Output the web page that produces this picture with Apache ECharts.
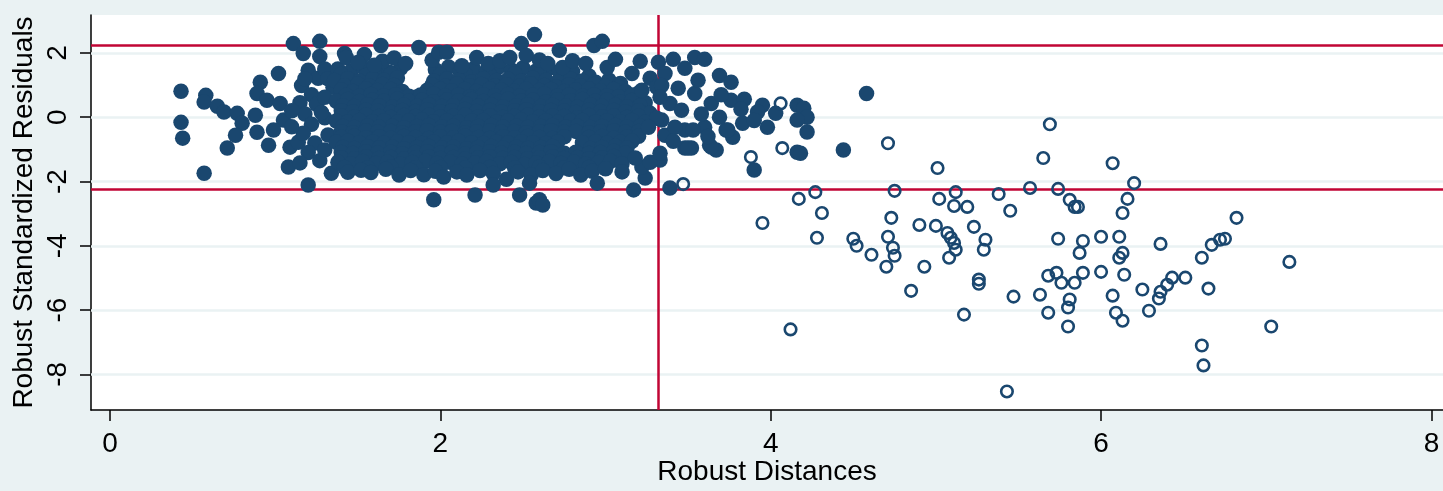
<!DOCTYPE html>
<html>
<head>
<meta charset="utf-8">
<style>
  html, body { margin: 0; padding: 0; background: #EAF2F3; }
  #chart { width: 1443px; height: 491px; }
</style>
<script src="https://cdn.jsdelivr.net/npm/echarts@6/dist/echarts.min.js"></script>
</head>
<body>
<div id="chart"></div>
<script>
// axis ticks
var xTicks = [0, 2, 4, 6, 8];
var yTicks = [-8, -6, -4, -2, 0, 2];
// cut-off lines
var yCut = [2.245, -2.245];
var xCut = [3.32];

// regular points (filled) in groups
var leftPts = [
  [0.43,0.81],[0.43,-0.16],[0.44,-0.65],[0.57,-1.74],[0.58,0.68],[0.57,0.47],[0.65,0.34],[0.69,0.16],
  [0.77,0.12],[0.8,-0.19],[0.76,-0.56],[0.71,-0.96],[0.89,-0.47],[0.88,0.06],[0.91,1.09],[0.89,0.74],
  [0.96,-0.87],[1.02,1.36],[1.08,-1.55],[1.09,-0.93],[1.14,-0.78],[1.11,2.29],[1.17,1.98],[1.27,2.36],
  [1.27,1.89],[1.2,-2.11],[1.2,1.46],[1.26,1.21],[1.16,0.99],[0.95,0.53],[1.03,0.43],[1.05,-0.09],
  [0.99,-0.4],[1.34,-1.74],[1.42,1.98],[1.35,0.93],
  [1.18,1.2],[1.22,0.7],[1.15,0.45],[1.25,0.4],[1.18,0.1],[1.22,-0.22],[1.17,-0.5],[1.24,-0.8],
  [1.2,-1.1],[1.27,-1.35],[1.15,-1.42],[1.1,0.2],[1.1,-0.3],[1.3,1.5],[1.3,0.62],[1.3,-0.02],
  [1.32,-0.55],[1.3,-1.02],[1.32,1.2],[1.28,0.15]
];
var corePts = [
  [1.38,1.5],[1.46,1.44],[1.53,1.56],[1.61,1.47],[1.69,1.4],[1.76,1.52],[1.97,1.48],[2.05,1.56],
  [2.12,1.42],[2.2,1.5],[2.28,1.45],[2.35,1.55],[2.43,1.47],[2.5,1.53],[2.58,1.44],[2.65,1.5],
  [2.72,1.42],[2.8,1.42],
  [1.4,1.33],[1.55,1.3],[1.7,1.35],[2.0,1.32],[2.15,1.34],[2.3,1.31],[2.45,1.35],[2.6,1.32],[2.75,1.3],[2.9,1.28],
  [1.36,1.14],[1.44,1.2],[1.51,1.12],[1.59,1.19],[1.66,1.15],[1.74,1.22],[1.96,1.13],[2.04,1.19],
  [2.11,1.16],[2.19,1.1],[2.26,1.2],[2.34,1.14],[2.41,1.18],[2.49,1.12],[2.56,1.21],[2.64,1.15],
  [2.71,1.1],[2.79,1.18],[2.86,1.13],[2.94,1.09],[3.02,1.16],[3.09,1.05],
  [1.42,0.98],[1.5,1.03],[1.57,0.97],[1.65,1.02],[1.72,0.99],[1.95,1.0],[2.03,0.96],[2.1,1.03],
  [2.18,0.98],[2.25,1.02],[2.33,0.97],[2.4,1.01],[2.48,0.96],[2.55,1.03],[2.63,0.99],[2.7,0.95],
  [2.78,1.01],[2.85,0.97],[2.93,1.02],[3.0,0.96],[3.08,0.93],
  [1.4,0.85],[1.47,0.8],[1.55,0.88],[1.62,0.83],[1.7,0.86],[1.77,0.8],[1.85,0.62],[1.92,0.84],
  [2.0,0.87],[2.07,0.82],[2.15,0.86],[2.22,0.8],[2.3,0.88],[2.37,0.84],[2.45,0.81],[2.52,0.87],
  [2.6,0.83],[2.67,0.86],[2.75,0.8],[2.82,0.85],[2.9,0.88],[2.97,0.82],[3.05,0.86],[3.12,0.8],[3.2,0.75],
  [1.43,0.68],[1.51,0.65],[1.58,0.71],[1.66,0.67],[1.73,0.7],[1.81,0.65],[1.88,0.69],[1.96,0.72],
  [2.03,0.66],[2.11,0.69],[2.18,0.64],[2.26,0.7],[2.33,0.67],[2.41,0.71],[2.48,0.65],[2.56,0.68],
  [2.63,0.72],[2.71,0.66],[2.78,0.69],[2.86,0.65],[2.93,0.7],[3.01,0.67],[3.08,0.64],[3.16,0.69],
  [1.37,0.5],[1.44,0.55],[1.51,0.49],[1.59,0.53],[1.66,0.5],[1.74,0.56],[1.81,0.5],[1.89,0.53],
  [1.96,0.48],[2.04,0.54],[2.11,0.51],[2.19,0.55],[2.26,0.49],[2.34,0.52],[2.41,0.56],[2.49,0.5],
  [2.56,0.53],[2.64,0.48],[2.71,0.54],[2.79,0.51],[2.86,0.55],[2.94,0.5],[3.01,0.53],[3.09,0.47],
  [3.16,0.52],[3.24,0.45],
  [1.41,0.36],[1.48,0.33],[1.56,0.39],[1.63,0.35],[1.71,0.31],[1.78,0.37],[1.86,0.34],[1.93,0.39],
  [2.01,0.33],[2.08,0.36],[2.16,0.4],[2.23,0.34],[2.31,0.37],[2.38,0.32],[2.46,0.36],[2.53,0.39],
  [2.61,0.33],[2.68,0.37],[2.76,0.35],[2.83,0.31],[2.91,0.38],[2.98,0.34],[3.06,0.37],[3.13,0.32],[3.21,0.36],
  [1.4,0.2],[1.47,0.17],[1.55,0.22],[1.62,0.19],[1.7,0.15],[1.77,0.21],[1.85,0.18],[1.92,0.23],
  [2.0,0.17],[2.07,0.2],[2.15,0.24],[2.22,0.18],[2.3,0.21],[2.37,0.16],[2.45,0.2],[2.52,0.23],
  [2.6,0.17],[2.67,0.21],[2.75,0.19],[2.82,0.15],[2.9,0.22],[2.97,0.18],[3.05,0.21],[3.12,0.16],
  [3.2,0.2],[3.27,0.12],
  [1.4,0.04],[1.48,0.01],[1.55,0.06],[1.63,0.02],[1.7,-0.01],[1.78,0.05],[1.85,0.02],[1.93,0.06],
  [2.0,0.0],[2.08,0.03],[2.15,0.07],[2.23,0.01],[2.3,0.04],[2.38,-0.01],[2.45,0.03],[2.53,0.06],
  [2.6,0.0],[2.68,0.04],[2.75,0.02],[2.83,-0.02],[2.9,0.05],[2.98,0.01],[3.05,0.04],[3.13,-0.01],[3.2,0.03],
  [1.37,-0.12],[1.44,-0.15],[1.51,-0.1],[1.59,-0.14],[1.66,-0.11],[1.74,-0.16],[1.81,-0.12],[1.89,-0.09],
  [1.96,-0.14],[2.04,-0.11],[2.11,-0.16],[2.19,-0.12],[2.26,-0.1],[2.34,-0.15],[2.41,-0.12],[2.49,-0.09],
  [2.56,-0.14],[2.64,-0.11],[2.71,-0.16],[2.79,-0.12],[2.86,-0.1],[2.94,-0.15],[3.01,-0.11],[3.09,-0.14],
  [3.16,-0.1],[3.24,-0.16],
  [1.41,-0.29],[1.48,-0.32],[1.56,-0.27],[1.63,-0.31],[1.71,-0.28],[1.78,-0.33],[1.86,-0.29],[1.93,-0.26],
  [2.01,-0.31],[2.08,-0.28],[2.16,-0.33],[2.23,-0.29],[2.31,-0.26],[2.38,-0.31],[2.46,-0.28],[2.53,-0.32],
  [2.61,-0.29],[2.68,-0.26],[2.76,-0.31],[2.83,-0.28],[2.91,-0.32],[2.98,-0.29],[3.06,-0.26],[3.13,-0.31],[3.21,-0.28],
  [1.4,-0.45],[1.47,-0.48],[1.55,-0.43],[1.62,-0.47],[1.7,-0.44],[1.77,-0.49],[1.85,-0.45],[1.92,-0.42],
  [2.0,-0.47],[2.07,-0.44],[2.15,-0.49],[2.22,-0.45],[2.3,-0.42],[2.37,-0.47],[2.45,-0.44],[2.52,-0.48],
  [2.6,-0.45],[2.67,-0.42],[2.75,-0.47],[2.82,-0.44],[2.9,-0.48],[2.97,-0.45],[3.05,-0.42],[3.12,-0.47],[3.2,-0.44],
  [1.4,-0.62],[1.48,-0.59],[1.55,-0.64],[1.63,-0.61],[1.7,-0.65],[1.78,-0.6],[1.85,-0.63],[1.93,-0.66],
  [2.0,-0.61],[2.08,-0.64],[2.15,-0.59],[2.23,-0.63],[2.3,-0.66],[2.38,-0.61],[2.45,-0.64],[2.53,-0.6],
  [2.6,-0.63],[2.68,-0.66],[2.75,-0.61],[2.9,-0.63],[2.98,-0.6],[3.05,-0.65],[3.13,-0.62],[3.2,-0.59],
  [1.37,-0.78],[1.44,-0.75],[1.51,-0.8],[1.59,-0.77],[1.66,-0.81],[1.74,-0.76],[1.81,-0.79],[1.89,-0.82],
  [1.96,-0.77],[2.04,-0.8],[2.11,-0.75],[2.19,-0.79],[2.26,-0.82],[2.34,-0.77],[2.41,-0.8],[2.49,-0.76],
  [2.56,-0.79],[2.64,-0.82],[2.71,-0.77],[2.86,-0.79],[2.94,-0.76],[3.01,-0.81],[3.09,-0.78],[3.16,-0.75],
  [1.41,-0.94],[1.48,-0.97],[1.56,-0.92],[1.63,-0.96],[1.71,-0.93],[1.78,-0.98],[1.86,-0.94],[1.93,-0.91],
  [2.01,-0.96],[2.08,-0.93],[2.16,-0.98],[2.23,-0.94],[2.31,-0.91],[2.38,-0.96],[2.46,-0.93],[2.53,-0.97],
  [2.61,-0.94],[2.68,-0.91],[2.91,-0.97],[2.98,-0.94],[3.06,-0.9],[3.13,-0.96],
  [1.4,-1.1],[1.47,-1.13],[1.55,-1.08],[1.62,-1.12],[1.7,-1.09],[1.77,-1.14],[1.85,-1.1],[1.92,-1.07],
  [2.0,-1.12],[2.07,-1.09],[2.15,-1.14],[2.22,-1.1],[2.3,-1.07],[2.37,-1.12],[2.45,-1.09],[2.52,-1.13],
  [2.6,-1.1],[2.67,-1.07],[2.75,-1.12],[2.82,-1.09],[2.9,-1.13],[2.97,-1.1],[3.05,-1.06],[3.12,-1.12],
  [1.4,-1.26],[1.48,-1.29],[1.55,-1.24],[1.63,-1.28],[1.7,-1.25],[1.78,-1.3],[1.85,-1.26],[1.93,-1.23],
  [2.0,-1.28],[2.08,-1.25],[2.15,-1.3],[2.23,-1.26],[2.3,-1.23],[2.38,-1.28],[2.45,-1.25],[2.53,-1.29],
  [2.6,-1.26],[2.68,-1.23],[2.75,-1.28],[2.83,-1.25],[2.9,-1.29],[2.98,-1.26],[3.05,-1.22],
  [1.38,-1.4],[1.46,-1.45],[1.53,-1.38],[1.61,-1.44],[1.68,-1.4],[1.76,-1.46],[1.83,-1.41],[1.91,-1.37],
  [1.98,-1.44],[2.06,-1.4],[2.13,-1.46],[2.21,-1.42],[2.28,-1.38],[2.36,-1.45],[2.43,-1.41],[2.51,-1.47],
  [2.58,-1.42],[2.66,-1.38],[2.73,-1.44],[2.81,-1.4],[2.88,-1.46],[2.96,-1.41],[3.03,-1.37],[3.1,-1.45],
  [1.42,-1.56],[1.56,-1.58],[1.7,-1.55],[1.85,-1.57],[2.0,-1.56],[2.15,-1.58],[2.3,-1.56],[2.45,-1.58],
  [2.6,-1.55],[2.75,-1.57],[2.9,-1.56]
];
var topPts = [
  [1.43,1.86],[1.54,1.95],[1.64,2.23],[1.65,1.74],[1.72,1.84],[1.79,1.67],[1.87,2.17],[1.95,1.77],
  [1.99,2.02],[2.04,2.02],[2.13,1.6],[2.22,1.86],[2.29,1.67],[2.36,1.76],[2.42,1.86],[2.49,2.29],
  [2.52,1.92],[2.57,2.57],[2.6,1.78],[2.65,1.67],[2.72,2.08],[2.74,1.55],[2.8,1.76],[2.88,1.67],
  [2.93,2.23],[2.98,2.36],[3.01,1.55],[3.06,1.8],[3.16,1.36],[3.21,1.74],[3.27,1.21],[3.32,1.71],
  [1.6,1.62],[1.5,1.7]
];
var bottomPts = [
  [1.44,-1.71],[1.52,-1.65],[1.58,-1.72],[1.67,-1.62],[1.75,-1.8],[1.82,-1.66],[1.9,-1.79],[1.97,-1.68],
  [2.02,-1.86],[2.1,-1.7],[2.16,-1.8],[2.24,-1.66],[2.32,-1.75],[2.4,-1.93],[2.47,-1.7],[2.55,-1.8],
  [2.62,-1.66],[2.7,-1.75],[2.78,-1.62],[2.85,-1.8],[2.92,-1.68],[3.0,-1.6],[3.1,-1.7],[3.24,-1.89],
  [2.32,-2.11],[2.54,-2.05],[1.96,-2.57],[2.21,-2.42],[2.48,-2.42],[2.58,-2.67],[2.6,-2.57],[2.62,-2.73],
  [2.95,-2.05],[3.17,-2.26],[3.39,-2.2]
];
var tailPts = [
  [3.41,1.8],[3.54,1.86],[3.6,1.8],[3.48,1.52],[3.69,1.3],[3.76,1.09],[3.54,0.74],[3.64,0.43],
  [3.76,0.53],[3.84,0.56],[3.95,0.37],[3.92,0.16],[4.03,0.12],[4.16,0.37],[4.2,0.28],[4.22,0],
  [4.16,-0.09],[4.22,-0.46],[3.98,-0.31],[3.69,0],[3.73,-0.4],[3.83,-0.19],[3.77,-0.62],[3.6,-0.31],
  [3.48,-0.4],[3.48,-0.96],[3.52,-0.96],[3.63,-0.87],[3.67,-1.02],[3.9,-1.64],[4.16,-1.09],[4.18,-1.12],
  [4.44,-1.02],[4.58,0.74],[3.31,0.93],[3.39,0.43],[3.34,-0.09],[3.33,-1.33],[3.22,-1.55],[3.36,1.36],
  [3.34,0.99],[3.22,0.84],[3.33,0.62],[3.46,0.22],[3.31,-0.03],[3.26,-0.31],[3.36,-0.56],[3.42,-0.31],
  [3.53,-0.4],[3.74,-0.4],[3.5,-0.96],[3.64,-0.93],[3.18,-1.27],[3.27,-1.4],[3.33,-1.12],
  [3.58,0.1],[3.62,-0.6],[3.7,0.7],[3.44,0.9],[3.41,-0.75],[3.56,1.15],[3.9,-0.1],[3.82,0.25]
];

// leverage points (hollow)
var hollowPts = [
  [4.06,0.43],[4.07,-0.96],[3.88,-1.24],[3.47,-2.08],[4.71,-0.81],[5.01,-1.58],[5.69,-0.22],[5.65,-1.27],
  [6.07,-1.43],[4.17,-2.54],[4.27,-2.33],[4.31,-2.98],[3.95,-3.29],[4.28,-3.75],[4.75,-2.29],[4.5,-3.78],
  [4.52,-4.0],[4.61,-4.28],[4.71,-3.72],[4.73,-3.13],[4.74,-4.06],[4.75,-4.31],[4.7,-4.65],[4.85,-5.4],
  [4.9,-3.35],[4.93,-4.65],[5.0,-3.38],[5.02,-2.54],[5.07,-3.6],[5.09,-3.75],[5.11,-3.91],[5.12,-4.12],
  [5.08,-4.37],[5.11,-2.76],[5.12,-2.33],[5.19,-2.79],[5.23,-3.41],[5.3,-3.81],[5.29,-4.12],[5.26,-5.05],
  [5.26,-5.18],[5.17,-6.14],[4.12,-6.6],[5.38,-2.39],[5.45,-2.91],[5.47,-5.58],[5.43,-8.53],[5.57,-2.2],
  [5.74,-2.23],[5.81,-2.57],[5.84,-2.79],[5.86,-2.79],[5.74,-3.78],[5.89,-3.85],[5.87,-4.22],[5.68,-4.93],
  [5.73,-4.84],[5.76,-5.15],[5.84,-5.15],[5.89,-4.84],[5.63,-5.52],[5.68,-6.08],[5.81,-5.67],[5.8,-5.92],
  [5.8,-6.51],[6.0,-3.72],[6.0,-4.81],[6.2,-2.05],[6.16,-2.54],[6.13,-2.98],[6.82,-3.13],[6.11,-3.72],
  [6.13,-4.22],[6.11,-4.37],[6.36,-3.94],[6.61,-4.37],[6.67,-3.97],[6.72,-3.81],[6.75,-3.78],[7.14,-4.5],
  [6.14,-4.9],[6.25,-5.36],[6.35,-5.64],[6.36,-5.43],[6.4,-5.21],[6.43,-4.99],[6.51,-4.99],[6.65,-5.33],
  [6.07,-5.55],[6.09,-6.08],[6.13,-6.33],[6.29,-6.02],[6.61,-7.1],[6.62,-7.72],[7.03,-6.51]
];

var filledPts = leftPts.concat(corePts, topPts, bottomPts, tailPts);

var navy = "#1A476F";
var red = "#C10534";
var font = "'Liberation Sans', Arial, Helvetica, sans-serif";

var chart = echarts.init(document.getElementById("chart"));
var option = {
  animation: false,
  backgroundColor: "#EAF2F3",
  textStyle: { fontFamily: font },
  grid: {
    left: 91,
    right: 0,
    top: 15,
    bottom: 81,
    show: true,
    backgroundColor: "#ffffff",
    borderWidth: 0
  },
  xAxis: {
    type: "value",
    min: -0.115,
    max: 8.07,
    name: "Robust Distances",
    nameLocation: "middle",
    nameGap: 48,
    nameMoveOverlap: false,
    nameTextStyle: { fontSize: 28, color: "#000", fontFamily: font },
    axisLine: { show: true, onZero: false, lineStyle: { color: "#000", width: 1.5 } },
    axisTick: { show: true, length: 11, customValues: xTicks, lineStyle: { color: "#000", width: 1.5 } },
    axisLabel: { customValues: xTicks, fontSize: 28, color: "#000", margin: 20, fontFamily: font },
    splitLine: { show: false }
  },
  yAxis: {
    type: "value",
    min: -9.107,
    max: 3.18,
    name: "Robust Standardized Residuals",
    nameLocation: "middle",
    nameGap: 53,
    nameMoveOverlap: false,
    nameTextStyle: { fontSize: 28, color: "#000", fontFamily: font },
    axisLine: { show: true, onZero: false, lineStyle: { color: "#000", width: 1.5 } },
    axisTick: { show: true, length: 11, customValues: yTicks, lineStyle: { color: "#000", width: 1.5 } },
    axisLabel: { customValues: yTicks, fontSize: 28, color: "#000", margin: 19, rotate: 90, fontFamily: font },
    splitLine: { show: false }
  },
  series: [
    {
      // light grid lines at the y ticks
      type: "scatter",
      data: [],
      silent: true,
      markLine: {
        z: 1,
        silent: true,
        symbol: "none",
        label: { show: false },
        lineStyle: { color: "#EAF2F3", width: 2.5, type: "solid" },
        data: yTicks.map(function (v) { return { yAxis: v }; })
      }
    },
    {
      // cut-off lines
      type: "scatter",
      data: [],
      silent: true,
      markLine: {
        z: 1.5,
        silent: true,
        symbol: "none",
        label: { show: false },
        lineStyle: { color: red, width: 2.5, type: "solid" },
        data: yCut.map(function (v) { return { yAxis: v }; })
          .concat(xCut.map(function (v) { return { xAxis: v }; }))
      }
    },
    {
      type: "scatter",
      z: 3,
      symbol: "circle",
      symbolSize: 15.5,
      itemStyle: { color: navy, opacity: 1 },
      data: filledPts
    },
    {
      type: "scatter",
      z: 3,
      symbol: "circle",
      symbolSize: 11.5,
      itemStyle: { color: "transparent", borderColor: navy, borderWidth: 2.6, opacity: 1 },
      data: hollowPts
    }
  ]
};
chart.setOption(option);
</script>
</body>
</html>
